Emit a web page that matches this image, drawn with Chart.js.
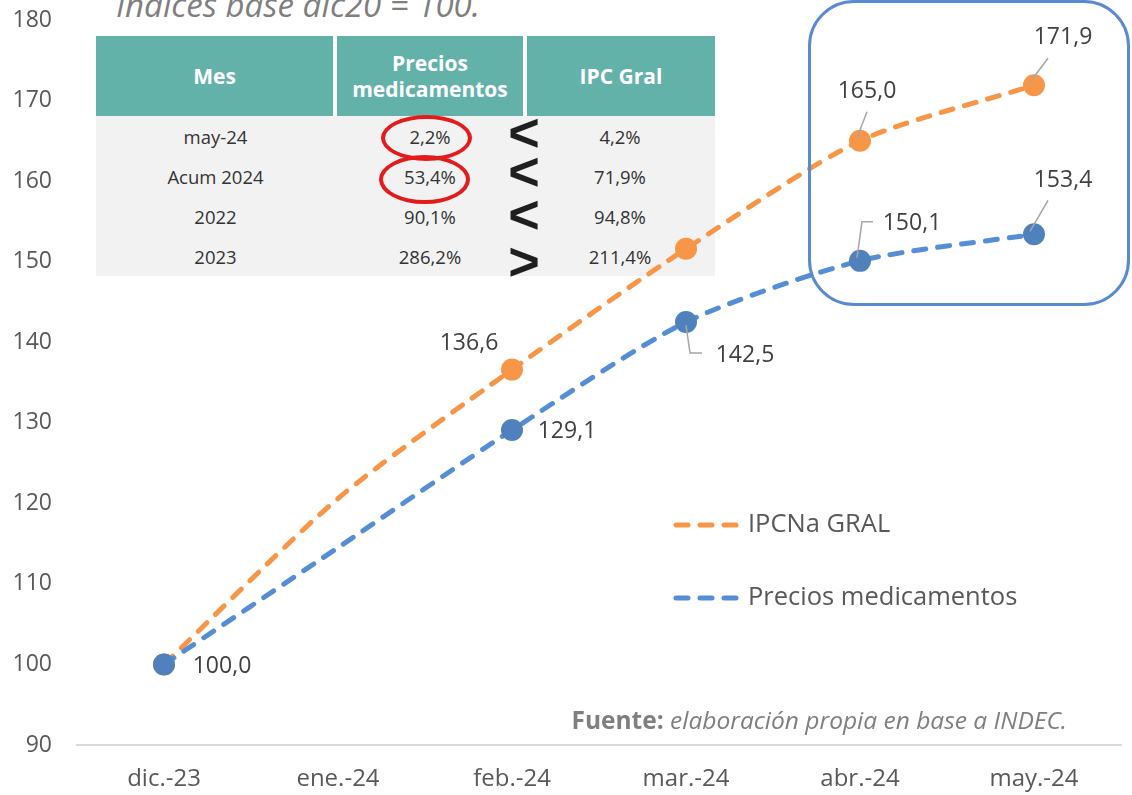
<!DOCTYPE html>
<html lang="es">
<head>
<meta charset="utf-8">
<script src="https://cdn.jsdelivr.net/npm/chart.js@4.4.1/dist/chart.umd.min.js"></script>
<style>
  body { margin: 0; background: #fff; font-family: "Open Sans", sans-serif; }
  #wrap { position: relative; width: 1132px; height: 795px; overflow: hidden; }
  #grafico { position: absolute; left: 0; top: 0; z-index: 2; }
  #titulo { position: absolute; left: 116px; top: -18px; font-size: 33px; line-height: 45px; font-style: italic; color: #7f7f7f; white-space: nowrap; z-index: 1; }
  #tabla { position: absolute; left: 96px; top: 36px; z-index: 1; }
  #tabla table { border-collapse: collapse; }
  #tabla th { background: #63b2aa; color: #fff; font-weight: bold; font-size: 21px; line-height: 26px; height: 80px; padding: 0; text-align: center; }
  #tabla th + th { border-left: 4px solid #fff; }
  #tabla td { background: #f2f2f2; color: #333; font-size: 18.5px; height: 40px; padding: 0; text-align: center; }
  .elipse { position: absolute; border: 4px solid #e31b1b; border-radius: 50%; box-sizing: border-box; z-index: 3; }
  .signo { position: absolute; width: 40px; height: 40px; margin-left: -20px; margin-top: -20px; text-align: center; font-family: "Liberation Sans", sans-serif; font-weight: bold; font-size: 54px; line-height: 40px; color: #1f1f1f; z-index: 3; }
  #recuadro { position: absolute; left: 808px; top: 0px; width: 322px; height: 306px; border: 3px solid #5a8ad2; border-radius: 46px; box-sizing: border-box; z-index: 3; }
  #fuente { position: absolute; right: 65px; top: 703px; font-size: 24.5px; line-height: 34px; color: #7f7f7f; white-space: nowrap; z-index: 3; }
</style>
</head>
<body>
<div id="wrap">
  <div id="titulo">Índices base dic20 = 100.</div>
  <div id="tabla"></div>
  <canvas id="grafico" width="1132" height="795"></canvas>
  <div id="recuadro"></div>
  <div class="elipse" style="left:381px; top:115px; width:91px; height:46px;"></div>
  <div class="elipse" style="left:379px; top:155px; width:91px; height:49px;"></div>
  <div id="fuente"><b>Fuente:</b> <i>elaboración propia en base a INDEC.</i></div>
</div>
<script>
const meses = ["dic.-23", "ene.-24", "feb.-24", "mar.-24", "abr.-24", "may.-24"];
const ipcGral = [100.0, 120.6, 136.6, 151.6, 165.0, 171.9];
const preciosMed = [100.0, 114.5, 129.1, 142.5, 150.1, 153.4];
const yTicks = [90, 100, 110, 120, 130, 140, 150, 160, 170, 180];

// tabla de variaciones
const filasMes = ["may-24", "Acum 2024", "2022", "2023"];
const varMedicamentos = ["2,2%", "53,4%", "90,1%", "286,2%"];
const varIpc = ["4,2%", "71,9%", "94,8%", "211,4%"];
const comparacion = ["<", "<", "<", ">"];

const NARANJA = "#f79646";
const AZUL_LINEA = "#558ed5";
const AZUL_PUNTO = "#4f81bd";

// armar la tabla
let html = '<table><tr><th style="width:237px">Mes</th><th style="width:186px">Precios<br>medicamentos</th><th style="width:188px">IPC Gral</th></tr>';
filasMes.forEach((m, i) => {
  html += `<tr><td>${m}</td><td>${varMedicamentos[i]}</td><td>${varIpc[i]}</td></tr>`;
});
html += "</table>";
document.getElementById("tabla").innerHTML = html;

// signos < > entre columnas (centros verticales de cada signo)
const centrosSigno = [132, 171, 214, 261];
const wrap = document.getElementById("wrap");
comparacion.forEach((s, i) => {
  const d = document.createElement("div");
  d.className = "signo";
  d.textContent = s;
  d.style.left = "524px";
  d.style.top = centrosSigno[i] + "px";
  wrap.appendChild(d);
});

// etiquetas de datos: desplazamiento respecto al punto y linea guia
const etiquetas = {
  0: { // IPCNa GRAL
    2: { dx: -43, dy: -26 },
    4: { dx: 7, dy: -49, guia: [[7, -29], [-3, -3]] },
    5: { dx: 29, dy: -48, guia: [[14, -27], [-4, -3]] },
  },
  1: { // Precios medicamentos
    0: { dx: 58, dy: 2 },
    2: { dx: 55, dy: 1 },
    3: { dx: 59, dy: 33, guia: [[0, 3], [4, 31], [16, 31]] },
    4: { dx: 52, dy: -37, guia: [[-3, -3], [2, -39], [13, -39]] },
    5: { dx: 29, dy: -54, guia: [[14, -34], [-4, -3]] },
  },
};

const pluginEtiquetas = {
  id: "etiquetas",
  afterDatasetsDraw(chart) {
    const ctx = chart.ctx;
    ctx.save();
    ctx.font = '23px "Open Sans"';
    ctx.textAlign = "center";
    ctx.textBaseline = "middle";
    chart.data.datasets.forEach((ds, di) => {
      const meta = chart.getDatasetMeta(di);
      const conf = etiquetas[di];
      Object.keys(conf).forEach((k) => {
        const i = +k;
        const p = meta.data[i];
        const c = conf[k];
        if (c.guia) {
          ctx.strokeStyle = "#a6a6a6";
          ctx.lineWidth = 1.5;
          ctx.beginPath();
          c.guia.forEach((g, j) => {
            if (j === 0) ctx.moveTo(p.x + g[0], p.y + g[1]);
            else ctx.lineTo(p.x + g[0], p.y + g[1]);
          });
          ctx.stroke();
        }
        ctx.fillStyle = "#404040";
        ctx.fillText(ds.data[i].toFixed(1).replace(".", ","), p.x + c.dx, p.y + c.dy);
      });
    });
    ctx.restore();
  },
};

// leyenda dentro del area del grafico
const pluginLeyenda = {
  id: "leyendaInterna",
  afterDraw(chart) {
    const ctx = chart.ctx;
    const items = [
      { ds: chart.data.datasets[0], y: 525 },
      { ds: chart.data.datasets[1], y: 598 },
    ];
    ctx.save();
    items.forEach((it) => {
      ctx.strokeStyle = it.ds.borderColor;
      ctx.lineWidth = 5;
      ctx.lineCap = "round";
      ctx.setLineDash([12, 12]);
      ctx.beginPath();
      ctx.moveTo(676, it.y);
      ctx.lineTo(742, it.y);
      ctx.stroke();
      ctx.setLineDash([]);
      ctx.fillStyle = "#595959";
      ctx.font = '25.5px "Open Sans"';
      ctx.textAlign = "left";
      ctx.textBaseline = "middle";
      ctx.fillText(it.ds.label, 748, it.y);
    });
    ctx.restore();
  },
};

const ctx = document.getElementById("grafico").getContext("2d");
new Chart(ctx, {
  type: "line",
  data: {
    labels: meses,
    datasets: [
      {
        label: "IPCNa GRAL",
        data: ipcGral,
        borderColor: NARANJA,
        backgroundColor: NARANJA,
        pointBackgroundColor: NARANJA,
        pointBorderWidth: 0,
        pointRadius: (c) => (c.dataIndex === 1 ? 0 : 11),
        borderWidth: 5,
        borderDash: [12, 12],
        borderCapStyle: "round",
        tension: 0.25,
        fill: false,
        order: 1,
      },
      {
        label: "Precios medicamentos",
        data: preciosMed,
        borderColor: AZUL_LINEA,
        backgroundColor: AZUL_PUNTO,
        pointBackgroundColor: AZUL_PUNTO,
        pointBorderWidth: 0,
        pointRadius: (c) => (c.dataIndex === 1 ? 0 : 11),
        borderWidth: 5,
        borderDash: [12, 12],
        borderCapStyle: "round",
        tension: 0.25,
        fill: false,
        order: 0,
      },
    ],
  },
  options: {
    responsive: false,
    animation: false,
    layout: { padding: { left: 0, top: 20, right: 11, bottom: 0 } },
    plugins: {
      legend: { display: false },
      tooltip: { enabled: false },
    },
    scales: {
      x: {
        offset: true,
        grid: { display: false, drawTicks: false },
        border: { display: true, color: "#d9d9d9", width: 2 },
        ticks: { color: "#595959", font: { family: "Open Sans", size: 24 }, padding: 20, maxRotation: 0 },
        afterFit(scale) { scale.height = 50; },
      },
      y: {
        min: 90,
        max: 180,
        afterBuildTicks(scale) { scale.ticks = yTicks.map((v) => ({ value: v })); },
        // separacion de las etiquetas via tickLength transparente
        grid: { display: true, drawOnChartArea: false, drawTicks: true, tickLength: 25, tickColor: "rgba(0,0,0,0)" },
        border: { display: false },
        ticks: { color: "#595959", font: { family: "Open Sans", size: 23 }, padding: 0 },
        afterFit(scale) { scale.width = 77; },
      },
    },
  },
  plugins: [pluginEtiquetas, pluginLeyenda],
});
</script>
</body>
</html>
